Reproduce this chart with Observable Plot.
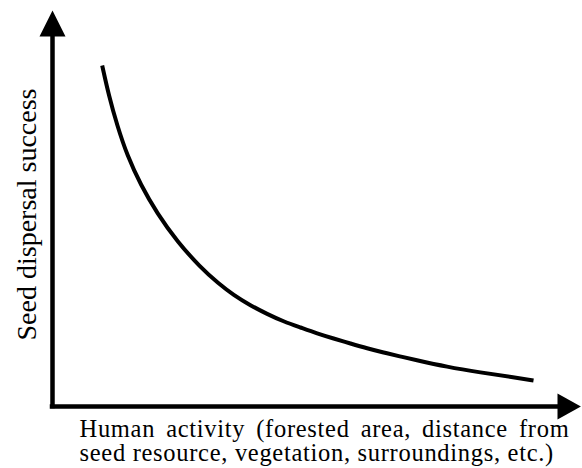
<!DOCTYPE html>
<html>
<head>
<meta charset="utf-8">
<script src="https://cdn.jsdelivr.net/npm/d3@7"></script>
<script src="https://cdn.jsdelivr.net/npm/@observablehq/plot@0.6"></script>
<style>
  html, body { margin: 0; padding: 0; background: #fff; }
</style>
</head>
<body>
<div id="chart"></div>
<script>
// Conceptual curve (abstract 0–100 units)
const activity = [9.84, 11.15, 12.81, 14.79, 17.43, 20.73, 24.69, 29.31, 32.87, 35.84, 39.21, 42.51, 45.74, 49.11, 52.42, 55.64, 59.01, 62.32, 65.54, 68.91, 71.49, 78.16, 84.75, 91.29, 95.25];
const success  = [92.16, 84.05, 75.95, 67.84, 60.0, 52.16, 44.59, 37.57, 33.24, 30.14, 27.30, 25.0, 22.97, 21.35, 19.73, 18.38, 17.03, 15.73, 14.59, 13.51, 12.70, 10.68, 9.19, 7.89, 7.03];
const xLabelLines = ["Human activity (forested area, distance from", "seed resource, vegetation, surroundings, etc.)"];
const yLabel = "Seed dispersal success";
const axisExtent = [0, 100];

const curve = activity.map((x, i) => ({x, y: success[i]}));
const serif = "'Liberation Serif', 'Times New Roman', Times, serif";

// filled arrowheads as custom symbols (anchor = base centre)
const arrowUp = {draw(ctx, size) { const r = Math.sqrt(size / Math.PI); ctx.moveTo(0, -2 * r); ctx.lineTo(r, 0); ctx.lineTo(-r, 0); ctx.closePath(); }};
const arrowRight = {draw(ctx, size) { const r = Math.sqrt(size / Math.PI); ctx.moveTo(1.8 * r, 0); ctx.lineTo(0, r); ctx.lineTo(0, -r); ctx.closePath(); }};

const chart = Plot.plot({
  width: 582,
  height: 468,
  marginLeft: 52,
  marginRight: 25,
  marginTop: 36,
  marginBottom: 62,
  x: {domain: axisExtent, axis: null},
  y: {domain: axisExtent, axis: null},
  style: {background: "#fff", color: "#000"},
  marks: [
    Plot.ruleX([axisExtent[0]], {y1: axisExtent[0], y2: axisExtent[1], stroke: "#000", strokeWidth: 4.5, strokeLinecap: "square"}),
    Plot.ruleY([axisExtent[0]], {x1: axisExtent[0], x2: axisExtent[1], stroke: "#000", strokeWidth: 4.5, strokeLinecap: "square"}),
    Plot.dot([{x: axisExtent[0], y: axisExtent[1]}], {x: "x", y: "y", r: 13, symbol: arrowUp, fill: "#000", stroke: "none"}),
    Plot.dot([{x: axisExtent[1], y: axisExtent[0]}], {x: "x", y: "y", r: 13, symbol: arrowRight, fill: "#000", stroke: "none"}),
    Plot.line(curve, {x: "x", y: "y", curve: "basis", stroke: "#000", strokeWidth: 4, strokeLinecap: "butt"}),
    Plot.text([xLabelLines.join("\n")], {text: d => d, frameAnchor: "bottom-left", textAnchor: "start", lineAnchor: "bottom", lineHeight: 0.94, dx: 27, dy: 54, fontSize: 24.5, fontFamily: serif, fill: "#000"}),
    Plot.text([yLabel], {text: d => d, frameAnchor: "left", rotate: -90, textAnchor: "middle", lineAnchor: "bottom", dx: -17, dy: -7, fontSize: 28, fontFamily: serif, fill: "#000"})
  ]
});
// stretch the x label a little, and justify its first line like the reference
d3.select(chart).selectAll("tspan").each(function() {
  const t = this.textContent;
  if (t === xLabelLines[0]) d3.select(this).style("letter-spacing", "0.7px").style("word-spacing", "4.2px");
  if (t === xLabelLines[1]) d3.select(this).style("letter-spacing", "0.7px");
});
document.getElementById("chart").appendChild(chart);
</script>
</body>
</html>
